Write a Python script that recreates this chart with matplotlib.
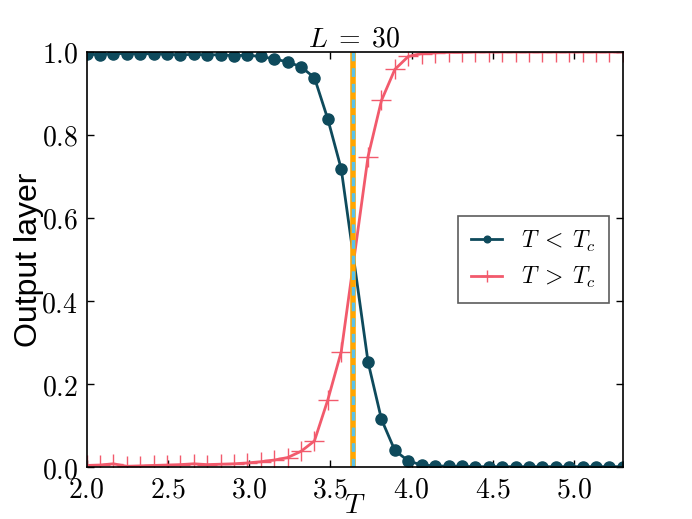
import numpy as np
import matplotlib
matplotlib.use("Agg")
import matplotlib.pyplot as plt
from matplotlib.ticker import FuncFormatter

plt.rcParams['mathtext.fontset'] = 'cm'

# temperatures of the test set (no point sits right on Tc)
temps = [2.0, 2.0825, 2.165, 2.2475, 2.33, 2.4125, 2.495, 2.5775, 2.66, 2.7425,
         2.825, 2.9075, 2.99, 3.0725, 3.155, 3.2375, 3.32, 3.4025, 3.485, 3.5675,
         3.7325, 3.815, 3.8975, 3.98, 4.0625, 4.145, 4.2275, 4.31, 4.3925,
         4.475, 4.5575, 4.64, 4.7225, 4.805, 4.8875, 4.97, 5.0525, 5.135, 5.2175, 5.3]

# output neuron for ordered phase
out_low = [0.995, 0.993, 0.996, 0.996, 0.995, 0.996, 0.994, 0.993, 0.994, 0.993,
           0.993, 0.991, 0.992, 0.989, 0.983, 0.976, 0.964, 0.938, 0.838, 0.718,
           0.253, 0.115, 0.040, 0.015, 0.005, 0.003, 0.002, 0.002, 0.001,
           0.001, 0.001, 0.001, 0.001, 0.001, 0.001, 0.001, 0.001, 0.001, 0.001, 0.001]

# output neuron for disordered phase
out_high = [0.004, 0.005, 0.008, 0.002, 0.003, 0.004, 0.005, 0.006, 0.008, 0.006,
            0.007, 0.008, 0.010, 0.013, 0.017, 0.023, 0.038, 0.063, 0.162, 0.278,
            0.748, 0.883, 0.958, 0.989, 0.996, 0.998, 0.999, 0.999, 1.0,
            1.0, 1.0, 1.0, 1.0, 1.0, 1.0, 1.0, 1.0, 1.0, 1.0, 1.0]

Tc = 3.641
L = 30

dark = '#0e4a5c'
red = '#f25a6c'

fig = plt.figure(figsize=(6.92, 5.19), dpi=100)
ax = fig.add_axes([0.125, 0.1, 0.775, 0.8])

ax.plot(temps, out_low, '-o', color=dark, lw=2, ms=8, mec=dark, label=r'$T \;<\; T_c$')
ax.plot(temps, out_high, '-+', color=red, lw=2, ms=15, mew=1, label=r'$T \;>\; T_c$')

ax.axvline(Tc, color='#ffa500', lw=4)
ax.axvline(Tc, color='#5bc2e7', lw=2.5, ls=(0, (2.5, 2)))

ax.set_xlim(2.0, 5.3)
ax.set_ylim(0, 1)
ax.set_xticks([2.0, 2.5, 3.0, 3.5, 4.0, 4.5, 5.0])
ax.set_yticks([0.0, 0.2, 0.4, 0.6, 0.8, 1.0])
fmt = FuncFormatter(lambda v, p: r'$%.1f$' % v)
ax.xaxis.set_major_formatter(fmt)
ax.yaxis.set_major_formatter(fmt)
ax.tick_params(direction='in', top=True, right=True, length=5, width=1,
               labelsize=20, pad=6)
for s in ax.spines.values():
    s.set_linewidth(1.2)

ax.set_xlabel(r'$T$', fontsize=20, labelpad=-9)
ax.set_ylabel('Output layer', fontsize=23, family='Liberation Sans', labelpad=-2)
ax.set_title(r'$L \;=\; %d$' % L, fontsize=20, pad=4)

leg = ax.legend(loc='center right', fontsize=17, numpoints=1, markerscale=0.6,
                handlelength=1.3, handletextpad=0.8, fancybox=False,
                borderaxespad=0.6, borderpad=0.55)
leg.get_frame().set_edgecolor('0.2')
leg.get_frame().set_linewidth(1.2)

fig.savefig('out.png', dpi=100)
